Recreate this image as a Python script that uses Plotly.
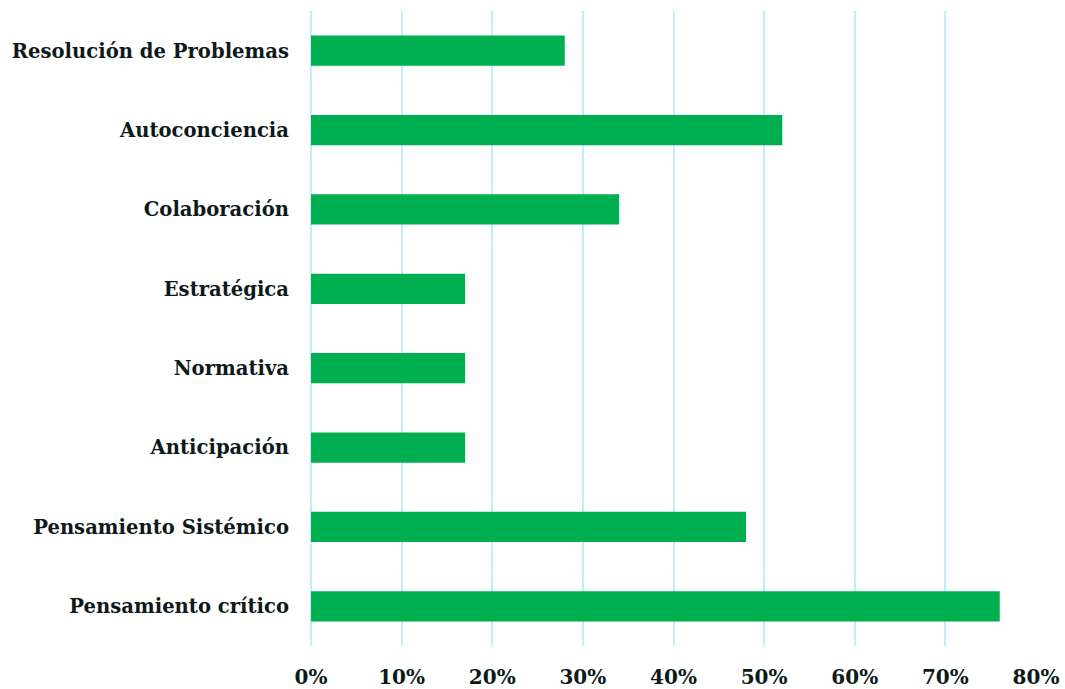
import plotly.graph_objects as go

categories = ["Pensamiento crítico", "Pensamiento Sistémico", "Anticipación", "Normativa",
              "Estratégica", "Colaboración", "Autoconciencia", "Resolución de Problemas"]
values = [0.76, 0.48, 0.17, 0.17, 0.17, 0.34, 0.52, 0.28]
tick_vals = [0, 0.1, 0.2, 0.3, 0.4, 0.5, 0.6, 0.7, 0.8]
tick_text = ["0%", "10%", "20%", "30%", "40%", "50%", "60%", "70%", "80%"]

font_family = "DejaVu Serif"
text_color = "#0D1A1A"
grid_color = "#BFEFFA"

fig = go.Figure(go.Bar(
    x=values, y=categories, orientation="h",
    marker=dict(color="#00AF50", line=dict(width=0)),
))

fig.update_layout(
    width=1065, height=689,
    margin=dict(l=311, r=29, t=11, b=43, autoexpand=False),
    paper_bgcolor="white", plot_bgcolor="white",
    bargap=0.62,
    showlegend=False,
    font=dict(family=font_family, color=text_color, size=20),
)
fig.update_xaxes(
    range=[0, 0.8], tickvals=tick_vals, ticktext=tick_text,
    automargin=False,
    showgrid=True, gridcolor=grid_color, gridwidth=2,
    zeroline=True, zerolinecolor=grid_color, zerolinewidth=2,
    showline=False, ticks="",
    ticklabelstandoff=17,
    tickfont=dict(family=font_family, size=20, color=text_color, weight="bold"),
)
fig.update_yaxes(
    automargin=False,
    showgrid=False, zeroline=False, showline=False, ticks="",
    ticklabelstandoff=21,
    tickfont=dict(family=font_family, size=19.6, color=text_color, weight="bold"),
)

fig.write_html(
    "out.html",
    config={"displayModeBar": False},
    post_script="document.body.style.margin='0';document.body.style.overflow='hidden';",
)
